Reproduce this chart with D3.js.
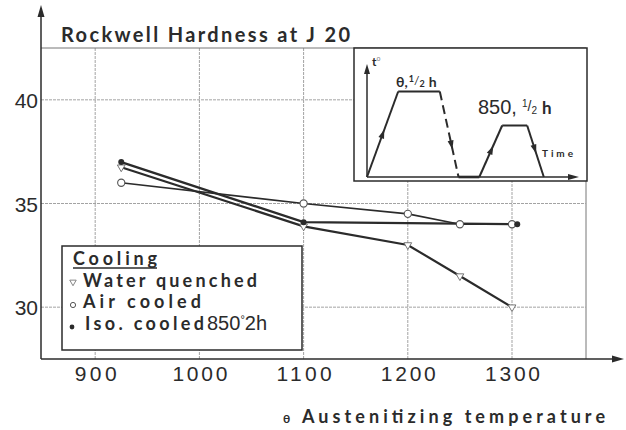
<!DOCTYPE html>
<html>
<head>
<meta charset="utf-8">
<script src="https://cdn.jsdelivr.net/npm/d3@7"></script>
<style>
  html, body { margin: 0; padding: 0; background: #fff; }
  svg { display: block; }
</style>
</head>
<body>
<svg id="chart" width="626" height="430"></svg>
<script>
// ---------- data ----------
const xTickValues = [900, 1000, 1100, 1200, 1300];
const yTickValues = [30, 35, 40];
const waterTemp = [925, 1100, 1200, 1250, 1300];
const waterHRC  = [36.75, 33.9, 33.0, 31.5, 30.0];
const airTemp   = [925, 1100, 1200, 1250, 1300];
const airHRC    = [36.0, 35.0, 34.5, 34.0, 34.0];
const isoTemp   = [925, 1100, 1305];
const isoHRC    = [37.0, 34.1, 34.0];
const legendLabels = ["Water quenched", "Air cooled", "Iso. cooled"];
// heat-treatment cycle sketch (inset), arbitrary units
const cycleTime = [0, 15, 35, 44, 54, 65, 77, 85];
const cycleTemp = [0, 83, 83, 0, 0, 50, 50, 0];

// ---------- setup ----------
const svg = d3.select("#chart");
const ink = "#2b2b2b";
const gridCol = "#a3a3a3";
const numFont = "'Liberation Sans', Arial, sans-serif";
const boldFont = "Lato, 'Open Sans', sans-serif";

const x = d3.scaleLinear().domain([848, 1371]).range([41, 586]);
const y = d3.scaleLinear().domain([27.5, 42.5]).range([359, 48]);

// ---------- grid ----------
const grid = svg.append("g");
grid.selectAll("line.v").data(xTickValues.concat([1371])).join("line")
  .attr("x1", d => x(d)).attr("x2", d => x(d))
  .attr("y1", y(42.5)).attr("y2", y(27.5))
  .attr("stroke", d => d === 1371 ? "#777" : gridCol).attr("stroke-width", 1)
  .attr("stroke-dasharray", d => d === 1371 ? null : "3 1");
grid.selectAll("line.h").data(yTickValues.concat([42.5])).join("line")
  .attr("x1", x(848)).attr("x2", x(1371))
  .attr("y1", d => y(d)).attr("y2", d => y(d))
  .attr("stroke", d => d === 42.5 ? "#777" : gridCol).attr("stroke-width", 1)
  .attr("stroke-dasharray", d => d === 42.5 ? null : "3 1");

// ---------- axes ----------
const xAxis = d3.axisBottom(x).tickValues(xTickValues).tickSize(0).tickPadding(22).tickFormat(d3.format("d"));
const gx = svg.append("g").attr("transform", `translate(0,${y(27.5)})`).call(xAxis);
gx.select(".domain").remove();
gx.selectAll("text").attr("font-family", numFont).attr("font-size", 21).attr("fill", ink)
  .attr("dy", 0).attr("y", 22)
  .attr("textLength", d => String(d).length === 3 ? 42 : 55).attr("lengthAdjust", "spacing");

const yAxis = d3.axisLeft(y).tickValues(yTickValues).tickSize(0).tickPadding(3);
const gy = svg.append("g").attr("transform", `translate(${x(848)},0)`).call(yAxis);
gy.select(".domain").remove();
gy.selectAll("text").attr("font-family", numFont).attr("font-size", 21).attr("fill", ink)
  .attr("dy", "0.36em");

// axis lines with arrows
svg.append("line").attr("x1", x(848)).attr("x2", 618).attr("y1", y(27.5)).attr("y2", y(27.5))
  .attr("stroke", ink).attr("stroke-width", 1.5);
svg.append("path").attr("d", `M624,${y(27.5)} L612,${y(27.5) - 3.5} L612,${y(27.5) + 3.5} Z`).attr("fill", ink);
svg.append("line").attr("x1", x(848)).attr("x2", x(848)).attr("y1", y(27.5)).attr("y2", 12)
  .attr("stroke", ink).attr("stroke-width", 1.5);
svg.append("path").attr("d", `M${x(848)},5 L${x(848) - 3.5},17 L${x(848) + 3.5},17 Z`).attr("fill", ink);

// ---------- title ----------
svg.append("text").attr("x", 61).attr("y", 42)
  .attr("font-family", boldFont).attr("font-weight", 700).attr("font-size", 20).attr("fill", ink)
  .attr("textLength", 289).attr("lengthAdjust", "spacing")
  .text("Rockwell Hardness at J 20");

// x-axis title
svg.append("text").attr("x", 283).attr("y", 423)
  .attr("font-family", boldFont).attr("font-weight", 700).attr("font-size", 12).attr("fill", ink)
  .text("θ");
svg.append("text").attr("x", 302).attr("y", 423)
  .attr("font-family", boldFont).attr("font-weight", 700).attr("font-size", 18).attr("fill", ink)
  .attr("textLength", 303).attr("lengthAdjust", "spacing")
  .text("Austenitizing temperature");

// ---------- legend box ----------
const lg = svg.append("g");
lg.append("rect").attr("x", 62).attr("y", 246).attr("width", 240).attr("height", 104)
  .attr("fill", "#fff").attr("stroke", ink).attr("stroke-width", 1.5);
lg.append("text").attr("x", 73).attr("y", 265)
  .attr("font-family", boldFont).attr("font-weight", 700).attr("font-size", 18).attr("fill", ink)
  .attr("textLength", 84).attr("lengthAdjust", "spacing").text("Cooling");
lg.append("line").attr("x1", 73).attr("x2", 157).attr("y1", 268).attr("y2", 268)
  .attr("stroke", ink).attr("stroke-width", 1.3);
const legY = [287, 308, 330];
const legW = [174, 118, 119];
lg.selectAll("text.item").data(legendLabels).join("text")
  .attr("x", (d, i) => i === 2 ? 85 : 83).attr("y", (d, i) => legY[i])
  .attr("font-family", boldFont).attr("font-weight", 700).attr("font-size", 18).attr("fill", ink)
  .attr("textLength", (d, i) => legW[i]).attr("lengthAdjust", "spacing")
  .text(d => d);
const t850 = lg.append("text").attr("x", 207).attr("y", 330)
  .attr("font-family", numFont).attr("font-size", 20).attr("fill", ink);
t850.append("tspan").text("850");
t850.append("tspan").attr("font-size", 11).attr("dy", -7).text("°");
t850.append("tspan").attr("dy", 7).text("2h");

// legend markers
const tri = d3.symbol().type(d3.symbolTriangle);
lg.append("path").attr("d", tri.size(18)()).attr("transform", "translate(73,282) rotate(180)")
  .attr("fill", "#fff").attr("stroke", "#777").attr("stroke-width", 0.9);
lg.append("circle").attr("cx", 73).attr("cy", 305).attr("r", 2.6)
  .attr("fill", "#fff").attr("stroke", "#555").attr("stroke-width", 1);
lg.append("circle").attr("cx", 72).attr("cy", 327).attr("r", 2.4).attr("fill", ink);

// ---------- inset ----------
const ins = svg.append("g");
ins.append("rect").attr("x", 354).attr("y", 48).attr("width", 233).attr("height", 133)
  .attr("fill", "#fff").attr("stroke", ink).attr("stroke-width", 1.5);
const ix = d3.scaleLinear().domain([0, 100]).range([367, 575]);
const iy = d3.scaleLinear().domain([0, 100]).range([177, 74]);
// inset axes
ins.append("line").attr("x1", ix(0)).attr("x2", ix(0)).attr("y1", iy(0)).attr("y2", 72)
  .attr("stroke", ink).attr("stroke-width", 1.5);
ins.append("path").attr("d", `M${ix(0)},64 L${ix(0) - 3},74 L${ix(0) + 3},74 Z`).attr("fill", ink);
ins.append("line").attr("x1", ix(0)).attr("x2", 570).attr("y1", iy(0)).attr("y2", iy(0))
  .attr("stroke", ink).attr("stroke-width", 1.5);
ins.append("path").attr("d", `M579,${iy(0)} L568,${iy(0) - 3} L568,${iy(0) + 3} Z`).attr("fill", ink);
const tt = ins.append("text").attr("x", 372).attr("y", 66)
  .attr("font-family", boldFont).attr("font-weight", 700).attr("font-size", 12).attr("fill", ink);
tt.append("tspan").text("t");
tt.append("tspan").attr("font-size", 7).attr("font-weight", 400).attr("dy", -5).attr("fill", "#888").text("o");
ins.append("text").attr("x", 542).attr("y", 156.5)
  .attr("font-family", boldFont).attr("font-weight", 700).attr("font-size", 10).attr("fill", ink)
  .attr("textLength", 31).attr("lengthAdjust", "spacing").text("Time");

const cyc = cycleTime.map((t, i) => [t, cycleTemp[i]]);
const segLine = d3.line().x(d => ix(d[0])).y(d => iy(d[1]));
for (let i = 0; i < cyc.length - 1; i++) {
  ins.append("path").attr("d", segLine([cyc[i], cyc[i + 1]]))
    .attr("fill", "none").attr("stroke", ink)
    .attr("stroke-width", i === 3 ? 2.6 : 2)
    .attr("stroke-dasharray", i === 2 ? "9 5" : null);
}
// direction arrows on the slopes
const arrowSegs = [[0, 0.5], [2, 0.62], [4, 0.52], [6, 0.45]];
arrowSegs.forEach(([i, f]) => {
  const p0 = [ix(cyc[i][0]), iy(cyc[i][1])], p1 = [ix(cyc[i + 1][0]), iy(cyc[i + 1][1])];
  const px = p0[0] + (p1[0] - p0[0]) * f, py = p0[1] + (p1[1] - p0[1]) * f;
  const ang = Math.atan2(p1[1] - p0[1], p1[0] - p0[0]) * 180 / Math.PI;
  ins.append("path").attr("d", "M5,0 L-4,-3 L-4,3 Z")
    .attr("transform", `translate(${px},${py}) rotate(${ang})`).attr("fill", ink);
});
// inset labels
const l1 = ins.append("text").attr("x", 396).attr("y", 87)
  .attr("font-family", boldFont).attr("font-weight", 700).attr("font-size", 14).attr("fill", ink);
l1.append("tspan").text("θ,");
l1.append("tspan").attr("font-size", 9).attr("dy", -5).attr("dx", 1).text("1");
l1.append("tspan").attr("font-size", 12).attr("font-weight", 400).attr("dy", 3).text("/");
l1.append("tspan").attr("font-size", 9).attr("dy", 2).text("2");
l1.append("tspan").attr("dx", 4).text("h");

const l2 = ins.append("text").attr("x", 478).attr("y", 114)
  .attr("font-family", numFont).attr("font-size", 20).attr("fill", ink);
l2.append("tspan").text("850,");
l2.append("tspan").attr("font-size", 10).attr("dy", -7).attr("dx", 5).text("1");
l2.append("tspan").attr("font-size", 14).attr("dy", 4).text("/");
l2.append("tspan").attr("font-size", 10).attr("dy", 3).text("2");
l2.append("tspan").attr("dx", 5).attr("font-family", boldFont).attr("font-weight", 700).attr("font-size", 17).text("h");

// ---------- data lines ----------
const line = d3.line().x(d => x(d[0])).y(d => y(d[1]));
const water = waterTemp.map((t, i) => [t, waterHRC[i]]);
const air = airTemp.map((t, i) => [t, airHRC[i]]);
const iso = isoTemp.map((t, i) => [t, isoHRC[i]]);
const plot = svg.append("g");
plot.append("path").attr("d", line(air)).attr("fill", "none").attr("stroke", ink).attr("stroke-width", 1.6);
plot.append("path").attr("d", line(water)).attr("fill", "none").attr("stroke", ink).attr("stroke-width", 2.2);
plot.append("path").attr("d", line(iso)).attr("fill", "none").attr("stroke", ink).attr("stroke-width", 2.4);

// markers
plot.selectAll("path.w").data(water).join("path")
  .attr("d", tri.size(26)())
  .attr("transform", d => `translate(${x(d[0])},${y(d[1])}) rotate(180)`)
  .attr("fill", "#fff").attr("stroke", "#666").attr("stroke-width", 0.9);
plot.selectAll("circle.a").data(air).join("circle")
  .attr("cx", d => x(d[0])).attr("cy", d => y(d[1])).attr("r", 3.6)
  .attr("fill", "#fff").attr("stroke", "#555").attr("stroke-width", 1.1);
plot.selectAll("circle.i").data(iso).join("circle")
  .attr("cx", d => x(d[0])).attr("cy", d => y(d[1])).attr("r", 3)
  .attr("fill", ink);
</script>
</body>
</html>
